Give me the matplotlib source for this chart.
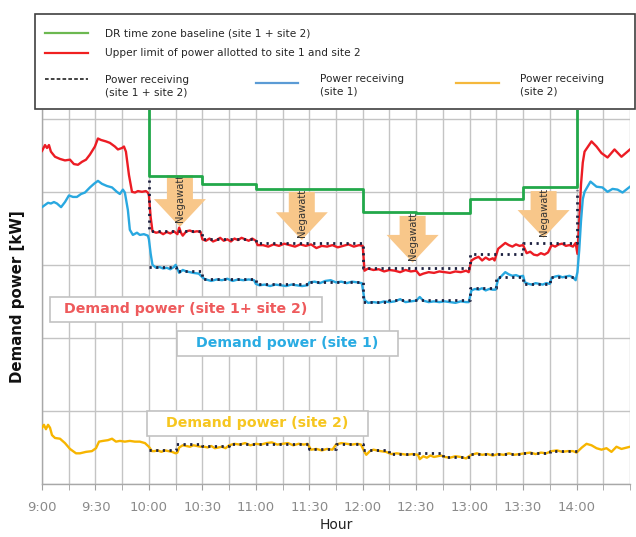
import matplotlib
matplotlib.use('Agg')
import matplotlib.pyplot as plt
import numpy as np
from matplotlib.patches import FancyArrow, Rectangle

plt.rcParams['font.family'] = ['DejaVu Sans']

# ---------------- data (x = minutes after 9:00, y = relative kW) ----------------
tick_labels = ["9:00", "9:30", "10:00", "10:30", "11:00", "11:30", "12:00",
               "12:30", "13:00", "13:30", "14:00"]

# Demand power (site 1 + site 2)  -- red
red_t = [0, 1.7, 2.8, 3.9, 5.0, 7.3, 10.1, 12.9, 15.7, 17.9, 20.2, 22.4, 24.7, 26.9, 29.7, 31.4,
         33.1, 35.9, 38.1, 40.9, 42.6, 44.9, 46.0, 47.1, 48.8, 50.5, 52.2, 53.8, 56.1, 58.3, 59.4,
         60, 61, 62, 64, 66, 68, 70, 72, 74, 76, 77, 78, 79, 81, 83, 85, 87, 89,
         90, 92, 94, 96, 98, 100, 102, 104, 106, 108, 110, 112, 114, 116, 118,
         120, 121, 124, 127, 130, 133, 136, 139, 142, 145, 148, 151, 154, 157, 160, 163, 166, 169,
         172, 175, 178, 180,
         181, 183, 186, 189, 192, 195, 198, 201, 204, 207, 210, 212, 214, 217, 220, 223, 226, 229,
         232, 235, 238, 239.5,
         241, 243, 245, 247, 249, 251, 253, 254,
         256, 258, 260, 262, 264, 266, 268, 270, 272, 274, 276, 278, 280, 282, 284, 286, 288, 290,
         292, 294, 296, 298, 299.5,
         300.5, 301.5, 302.5, 303.5, 304.5, 308.4, 311.2, 314, 317.4, 321.3, 325.2, 330]
red_v = [456, 464, 460, 464, 455, 448, 445, 443, 444, 438, 437, 441, 444, 451, 462, 473,
         471, 469, 467, 462, 458, 460, 462, 455, 423, 400, 399, 401, 400, 401, 399,
         395, 365, 346, 344, 345, 342, 345, 343, 346, 342, 351, 344, 340, 346, 347, 345, 346, 345,
         335, 333, 336, 332, 334, 337, 333, 335, 332, 336, 334, 337, 335, 333, 336,
         333, 327, 327, 325, 328, 326, 329, 327, 325, 328, 326, 328, 323, 326, 325, 327, 324, 326,
         328, 325, 327, 326,
         292, 295, 293, 294, 291, 293, 292, 290, 293, 291, 292, 286, 288, 290, 289, 291, 290, 289,
         291, 290, 292, 290,
         306, 309, 311, 306, 310, 307, 309, 306,
         322, 326, 330, 327, 325, 328, 326, 327, 316, 318, 314, 313, 316, 314, 317, 327, 325, 328,
         329, 326, 327, 325, 330,
         315, 360, 410, 440, 455, 469, 462, 453, 447, 458, 448, 458]

# Demand power (site 1) -- blue
blue_t = [0, 1.7, 3.4, 5.0, 6.7, 8.4, 10.7, 12.9, 15.1, 17.4, 19.6, 21.9, 24.1, 26.9, 29.2, 31.4,
          33.6, 36.4, 39.3, 42.0, 43.7, 45.4, 46.5, 48.2, 49.3, 51.0, 53.3, 54.9, 57.2, 59.4,
          60, 61, 62, 63, 64, 66, 68, 70, 72, 74, 75, 77, 79, 81, 83, 85, 88, 90, 91,
          92, 95, 98, 101, 104, 107, 110, 113, 116, 119,
          120, 122, 125, 128, 131, 134, 137, 140, 143, 146, 149,
          150, 153, 156, 159, 162, 165, 168, 171, 174, 177, 179.5,
          181, 183, 186, 189, 192, 195, 198, 201, 204, 207, 210, 212, 214, 217, 220, 223, 226, 229,
          232, 235, 238, 239.5,
          241, 243, 245, 247, 249, 251, 253, 254.5,
          256, 258, 260, 262, 264, 266, 268, 270,
          271, 273, 275, 277, 279, 281, 283, 285,
          286, 288, 290, 292, 294, 296, 298, 299.5,
          300.5, 301.5, 302.5, 303.5, 304.5, 307.8, 311.2, 314.5, 317.4, 320.2, 323, 325.8, 330]
blue_v = [379, 382, 385, 384, 386, 384, 379, 386, 395, 393, 393, 397, 399, 406, 411, 415,
          411, 408, 406, 400, 397, 403, 399, 375, 348, 341, 344, 341, 342, 340,
          335, 315, 300, 298, 296, 297, 295, 296, 294, 297, 300, 289, 293, 291, 290, 289, 288, 283, 281,
          280, 278, 280, 279, 281, 278, 280, 279, 280, 279,
          274, 272, 273, 271, 273, 272, 271, 273, 272, 271, 272,
          276, 277, 275, 278, 279, 276, 277, 275, 277, 276, 275,
          252, 248, 249, 248, 250, 249, 250, 253, 249, 250, 251, 256, 251, 249, 250, 249, 250, 249,
          248, 250, 249, 249,
          265, 267, 266, 268, 265, 267, 266, 266,
          280, 285, 290, 287, 285, 286, 284, 285,
          276, 274, 273, 275, 274, 273, 275, 274,
          282, 284, 285, 283, 284, 285, 283, 279,
          290, 320, 360, 390, 400, 414, 407, 406, 400, 404, 403, 399, 407]

# Demand power (site 2) -- yellow
yel_t = [0, 1.1, 2.2, 3.4, 4.5, 5.6, 7.3, 10.1, 12.9, 15.7, 19.1, 21.3, 24.7, 28.0, 30.3, 32.0,
         34.2, 37.0, 39.3, 41.5, 43.7, 46.5, 49.3, 52.1, 54.9, 57.8, 60.0, 61.7,
         63, 65, 67, 69, 71, 73, 75, 76,
         77, 79, 81, 83, 85, 87, 89,
         91, 93, 95, 97, 99, 101, 103,
         105, 108, 111, 114, 117, 120, 123, 126, 129, 132, 135, 138, 141, 144, 147, 149,
         151, 154, 157, 160, 163,
         165, 168, 171, 174, 177, 179,
         181, 182, 184, 186, 188, 190, 193,
         196, 199, 202, 205, 208,
         211, 212, 214, 216, 218, 220, 222, 224,
         226, 229, 232, 235, 238, 239,
         241, 244, 247, 250, 253, 256, 259, 262, 265, 268,
         271, 274, 277, 280, 283,
         286, 289, 292, 295, 298, 300,
         303, 305.6, 308.4, 311.2, 314, 316.8, 319.6, 322.4, 325.2, 330]
yel_v = [77, 81, 75, 81, 77, 67, 63, 62, 56, 48, 42, 42, 44, 45, 49, 58,
         59, 60, 62, 58, 59, 58, 59, 58, 58, 56, 51, 45,
         45, 46, 44, 46, 45, 44, 42, 43,
         50, 53, 52, 51, 53, 52, 51,
         51, 50, 52, 49, 50, 51, 49,
         53, 55, 54, 56, 53, 55, 54, 56, 57, 54, 55, 56, 53, 55, 54, 55,
         47, 48, 46, 48, 47,
         54, 56, 55, 54, 55, 54,
         44, 40, 45, 47, 46, 45, 44,
         41, 42, 41, 40, 41,
         40, 34, 38, 36, 39, 37, 38, 39,
         37, 36, 38, 37, 35, 37,
         40, 42, 40, 41, 39, 41, 40, 42, 40, 41,
         42, 43, 41, 43, 42,
         45, 46, 44, 45, 45, 43,
         50, 55, 53, 49, 47, 49, 44, 51, 48, 51]

# DR time zone baseline (site 1 + site 2) -- green steps
base_edges = [60, 90, 120, 180, 210, 240, 270, 300]
base_vals = [422, 411, 404, 373, 371, 390, 406]
base_outside = 600   # above the plotted range outside the DR window

# Power receiving (dotted steps)
recv_tot_edges = [60, 90, 120, 180, 240, 270, 300]
recv_tot_vals = [347, 336, 330, 296, 315, 330]
recv_tot_start, recv_tot_end = 416, 403
recv_s1_edges = [60, 75, 90, 120, 150, 180, 195, 240, 255, 270, 285, 300]
recv_s1_vals = [297, 292, 281, 274, 277, 249, 252, 269, 284, 274, 284]
recv_s2_edges = [60, 75, 90, 105, 150, 165, 180, 195, 210, 225, 240, 270, 285, 300]
recv_s2_vals = [47, 55, 52, 55, 48, 55, 47, 41, 42, 37, 41, 42, 45]

# Negawatt arrows (time, top, tip)
arrow_t = [77.4, 145.8, 208.0, 281.5]
arrow_top = [423, 400, 367, 401]
arrow_tip = [352, 334, 303, 337]

# ---------------- colours ----------------
C_RED = '#ec1c24'
C_BLUE = '#29a8e0'
C_YEL = '#f7b500'
C_GRN = '#22a84a'
C_DOT = '#1c2040'
C_ARW = '#f8c78a'
C_GRID = '#c4c4c4'

fig = plt.figure(figsize=(6.36, 5.37), dpi=100)
ax = fig.add_axes([42/636, 53/537, 588/636, 374/537])


def step_xy(edges, vals, start=None, end=None):
    xs, ys = [], []
    if start is not None:
        xs.append(edges[0]); ys.append(start)
    for i, v in enumerate(vals):
        xs += [edges[i], edges[i+1]]
        ys += [v, v]
    if end is not None:
        xs.append(edges[-1]); ys.append(end)
    return xs, ys


# grid
ax.set_xlim(0, 330)
ax.set_ylim(0, 512)
ax.set_xticks(np.arange(0, 301, 30))
ax.set_xticklabels(tick_labels)
ax.set_xticks(np.arange(0, 331, 15), minor=True)
ax.set_yticks(np.arange(0, 501, 100))
ax.set_yticklabels([])
ax.grid(True, which='both', axis='x', color=C_GRID, lw=1.0)
ax.grid(True, which='major', axis='y', color=C_GRID, lw=1.0)
ax.set_axisbelow(True)
ax.tick_params(axis='x', which='both', length=4, color='#a0a0a0', colors='#8a8a8a',
               labelsize=9.5, pad=8)
ax.tick_params(axis='x', which='minor', labelbottom=False)
ax.tick_params(axis='y', length=0)
for s in ['top', 'right']:
    ax.spines[s].set_visible(False)
for s in ['left', 'bottom']:
    ax.spines[s].set_color('#a8a8a8')
    ax.spines[s].set_linewidth(1.0)

# annotation boxes (behind the lines)
boxes = [((4.5, 221.9), 152.5, 34.3, 'Demand power (site 1+ site 2)', '#ee5a5c'),
         ((75.7, 175.4), 123.9, 34.2, 'Demand power (site 1)', '#2aace3'),
         ((58.9, 65.8), 123.9, 34.2, 'Demand power (site 2)', '#f6c620')]
for (x0, y0), w, h, txt, col in boxes:
    ax.add_patch(Rectangle((x0, y0), w, h, facecolor='white', edgecolor='#c2c2c2',
                           lw=1.2, zorder=2))
    ax.text(x0 + w/2, y0 + h/2, txt, color=col, fontsize=10.2, fontweight='bold',
            ha='center', va='center', zorder=3)

# arrows
for t, top, tip in zip(arrow_t, arrow_top, arrow_tip):
    ax.add_patch(FancyArrow(t, top, 0, tip - top, width=14.6, head_width=29.2,
                            head_length=38, length_includes_head=True,
                            facecolor=C_ARW, edgecolor='none', zorder=3))
    ax.text(t, (top + tip)/2 + 4, 'Negawatt', rotation=90, fontsize=7.2, color='#333333',
            ha='center', va='center', zorder=4)

# lines
bx, by = step_xy(base_edges, base_vals, start=base_outside, end=base_outside)
ax.plot(bx, by, color=C_GRN, lw=2.0, zorder=5)
ax.plot(red_t, red_v, color=C_RED, lw=1.7, zorder=5)
ax.plot(blue_t, blue_v, color=C_BLUE, lw=1.7, zorder=5)
ax.plot(yel_t, yel_v, color=C_YEL, lw=1.7, zorder=5)

dot_style = dict(color=C_DOT, lw=2.0, linestyle=(0, (0.8, 1.6)), zorder=6)
x1, y1 = step_xy(recv_tot_edges, recv_tot_vals, start=recv_tot_start, end=recv_tot_end)
ax.plot(x1, y1, **dot_style)
x2, y2 = step_xy(recv_s1_edges, recv_s1_vals)
ax.plot(x2, y2, **dot_style)
x3, y3 = step_xy(recv_s2_edges, recv_s2_vals)
ax.plot(x3, y3, **dot_style)

ax.set_xlabel('Hour', fontsize=10, color='#222222', labelpad=3)
ax.set_ylabel('Demand power [kW]', fontsize=10.8, fontweight='bold', color='#111111',
              labelpad=9)

# ---------------- legend box (figure pixel layout) ----------------
lg = fig.add_axes([0, 0, 1, 1], zorder=10)
lg.set_xlim(0, 636)
lg.set_ylim(537, 0)
lg.axis('off')
lg.patch.set_alpha(0)
lg.add_patch(Rectangle((35, 14), 600, 95, facecolor='white', edgecolor='#404040', lw=1.2))
fs = 7.6
tc = '#262626'
lg.plot([45, 88], [33, 33], color='#6cb850', lw=1.6)
lg.text(105, 33, 'DR time zone baseline (site 1 + site 2)', fontsize=fs, color=tc, va='center')
lg.plot([45, 88], [53, 53], color='#f02020', lw=1.6)
lg.text(105, 53, 'Upper limit of power allotted to site 1 and site 2', fontsize=fs, color=tc,
        va='center')
lg.plot([45, 88], [79, 79], color='#222222', lw=1.2, linestyle=(0, (2.2, 1.3)))
lg.text(105, 86, 'Power receiving\n(site 1 + site 2)', fontsize=fs, color=tc, va='center',
        linespacing=1.35)
lg.plot([256, 298], [83, 83], color='#5b9bd5', lw=1.6)
lg.text(320, 85, 'Power receiving\n(site 1)', fontsize=fs, color=tc, va='center',
        linespacing=1.35)
lg.plot([456, 499], [83, 83], color='#f5b83c', lw=1.6)
lg.text(520, 85, 'Power receiving\n(site 2)', fontsize=fs, color=tc, va='center',
        linespacing=1.35)

fig.savefig('out.png', dpi=100)
